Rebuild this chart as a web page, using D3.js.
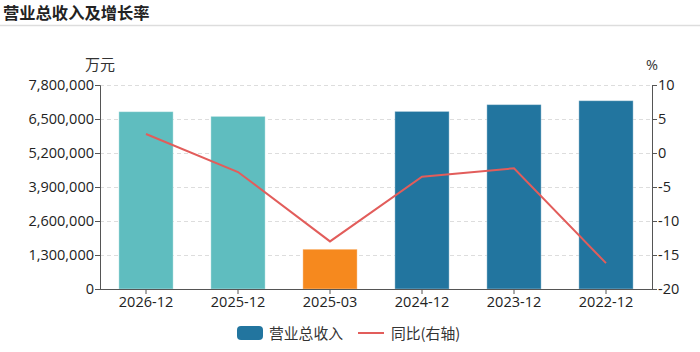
<!DOCTYPE html>
<html><head><meta charset="utf-8">
<script src="https://cdn.jsdelivr.net/npm/d3@7"></script>
<style>body{margin:0;background:#fff;font-family:"Noto Sans CJK SC","Open Sans",sans-serif;}</style>
</head><body><svg id="c" width="700" height="352"></svg>
<script>
const categories = ["2026-12","2025-12","2025-03","2024-12","2023-12","2022-12"];
const revenue = [6780000, 6600000, 1520000, 6790000, 7050000, 7200000];
const growth = [2.8, -2.8, -13.0, -3.5, -2.25, -16.2];
const barColors = ["#5fbdbf","#5fbdbf","#f6891e","#22759f","#22759f","#22759f"];
const leftTicks = [0,1300000,2600000,3900000,5200000,6500000,7800000];
const rightTicks = [-20,-15,-10,-5,0,5,10];

const svg = d3.select("#c");
const L = 100, R = 652, T = 85, B = 289;
const font = "'Open Sans','Noto Sans CJK SC',sans-serif";
const cjk = "'Noto Sans CJK SC',sans-serif";

svg.append("text").attr("x",3).attr("y",18.5).text("营业总收入及增长率")
  .attr("font-size",16.3).attr("font-weight","bold").attr("fill","#222").attr("font-family",cjk);
svg.append("line").attr("x1",0).attr("x2",700).attr("y1",25.5).attr("y2",25.5).attr("stroke","#ddd").attr("stroke-width",1.5);

const x = d3.scaleBand().domain(categories).range([L,R]).paddingInner(0.41).paddingOuter(0.205);
const y = d3.scaleLinear().domain([0,7800000]).range([B,T]);
const y2 = d3.scaleLinear().domain([-20,10]).range([B,T]);

// grid
svg.append("g").selectAll("line").data(leftTicks.slice(1)).join("line")
  .attr("x1",L).attr("x2",R).attr("y1",d=>y(d)+0.5).attr("y2",d=>y(d)+0.5)
  .attr("stroke","#ddd").attr("stroke-dasharray","4,3");

// bars
svg.append("g").selectAll("rect").data(categories).join("rect")
  .attr("x",d=>x(d)).attr("width",x.bandwidth())
  .attr("y",(d,i)=>y(revenue[i])).attr("height",(d,i)=>B-y(revenue[i]))
  .attr("fill",(d,i)=>barColors[i]).attr("stroke","rgba(255,255,255,0.35)");

// line
const line = d3.line().x((d,i)=>x(categories[i])+x.bandwidth()/2).y(d=>y2(d));
svg.append("path").datum(growth).attr("d",line).attr("fill","none").attr("stroke","#e25d5b").attr("stroke-width",2);

// axes
const styleAxis = g => {
  g.selectAll("path,line").attr("stroke","#555");
  g.selectAll("text").attr("font-size",14.5).attr("fill","#222").attr("font-family",font);
};
svg.append("g").attr("transform",`translate(${L},0)`)
  .call(d3.axisLeft(y).tickValues(leftTicks).tickFormat(d3.format(",")).tickSizeOuter(0).tickSize(5).tickPadding(1))
  .call(styleAxis);
svg.append("g").attr("transform",`translate(${R},0)`)
  .call(d3.axisRight(y2).tickValues(rightTicks).tickSizeOuter(0).tickSize(5).tickPadding(1).tickFormat(d=>d))
  .call(styleAxis);
svg.append("g").attr("transform",`translate(0,${B})`)
  .call(d3.axisBottom(x).tickSizeOuter(0).tickSize(5).tickPadding(3))
  .call(styleAxis)
  .call(g=>g.select(".domain").attr("d",`M${L},0.5H${R}`));

svg.append("text").attr("x",L).attr("y",70).attr("text-anchor","middle").text("万元")
  .attr("font-size",15).attr("fill","#333").attr("font-family",cjk);
svg.append("text").attr("x",R).attr("y",70).attr("text-anchor","middle").text("%")
  .attr("font-size",14.5).attr("fill","#333").attr("font-family",font);

// legend
const lg = svg.append("g");
lg.append("rect").attr("x",237).attr("y",326).attr("width",26).attr("height",14).attr("rx",4).attr("fill","#22759f");
lg.append("text").attr("x",269).attr("y",338.5).text("营业总收入").attr("font-size",14.8).attr("fill","#333").attr("font-family",cjk);
lg.append("line").attr("x1",358).attr("x2",384).attr("y1",333).attr("y2",333).attr("stroke","#e25d5b").attr("stroke-width",2);
lg.append("text").attr("x",391).attr("y",338.5).text("同比(右轴)").attr("font-size",14.8).attr("fill","#333").attr("font-family",cjk);
</script></body></html>
